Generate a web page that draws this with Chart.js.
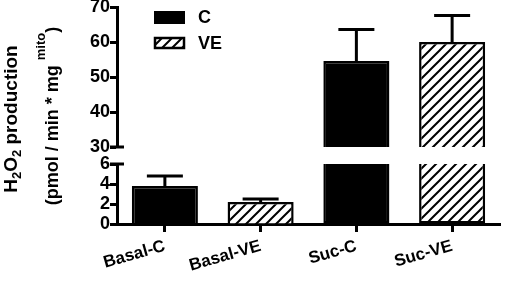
<!DOCTYPE html>
<html>
<head>
<meta charset="utf-8">
<script src="https://cdn.jsdelivr.net/npm/chart.js@4.4.0/dist/chart.umd.min.js"></script>
<style>
  html, body { margin: 0; padding: 0; background: #fff; }
</style>
</head>
<body>
<canvas id="grafico" width="505" height="282"></canvas>
<script>
// Dados
const categorias = ['Basal-C', 'Basal-VE', 'Suc-C', 'Suc-VE'];
const grupos = ['C', 'VE', 'C', 'VE'];
const medias = [3.8, 2.2, 54.6, 60.0];
const erros = [1.0, 0.3, 9.0, 7.6];
const ticksBaixo = [0, 2, 4, 6];
const ticksAlto = [30, 40, 50, 60, 70];

const corteBaixo = ticksBaixo[ticksBaixo.length - 1];
const corteAlto = ticksAlto[0];

// Padrão de hachura diagonal
function criarHachura() {
    const s = 10;
    const c = document.createElement('canvas');
    c.width = s;
    c.height = s;
    const g = c.getContext('2d');
    g.fillStyle = '#fff';
    g.fillRect(0, 0, s, s);
    g.strokeStyle = '#000';
    g.lineWidth = 2;
    g.beginPath();
    g.moveTo(-1, s + 1); g.lineTo(s + 1, -1);
    g.moveTo(-1, 1); g.lineTo(1, -1);
    g.moveTo(s - 1, s + 1); g.lineTo(s + 1, s - 1);
    g.stroke();
    return g.createPattern(c, 'repeat');
}
const hachura = criarHachura();

function parteBaixa(grupo) {
    return medias.map((v, i) => grupos[i] === grupo ? [0, Math.min(v, corteBaixo)] : null);
}
function parteAlta(grupo) {
    return medias.map((v, i) => grupos[i] === grupo && v > corteAlto ? [corteAlto, v] : null);
}

const estiloBarra = {
    borderColor: '#000',
    borderWidth: 2.5,
    grouped: false,
    categoryPercentage: 1,
    barPercentage: 0.69
};

function pularBaixo(ctx) {
    const v = ctx.raw;
    return v && v[1] >= corteBaixo ? 'top' : 'bottom';
}

const datasets = [
    Object.assign({ label: 'C', data: parteBaixa('C'), yAxisID: 'yBaixo', backgroundColor: '#000', borderSkipped: pularBaixo }, estiloBarra),
    Object.assign({ label: 'C', data: parteAlta('C'), yAxisID: 'yAlto', backgroundColor: '#000', borderSkipped: 'bottom' }, estiloBarra),
    Object.assign({ label: 'VE', data: parteBaixa('VE'), yAxisID: 'yBaixo', backgroundColor: hachura, borderSkipped: pularBaixo }, estiloBarra),
    Object.assign({ label: 'VE', data: parteAlta('VE'), yAxisID: 'yAlto', backgroundColor: hachura, borderSkipped: 'bottom' }, estiloBarra)
];

const fonteTicks = { family: 'Arial', weight: 'bold', size: 18 };

function eixoY(min, max, lista, peso, ordem) {
    return {
        type: 'linear',
        position: 'left',
        stack: 'y',
        stackWeight: peso,
        weight: ordem,
        min: min,
        max: max,
        stacked: false,
        afterBuildTicks: s => { s.ticks = lista.map(v => ({ value: v })); },
        afterFit: s => { s.width = 57; s.paddingTop = 0; s.paddingBottom = 0; },
        grid: { drawOnChartArea: false, drawTicks: true, tickLength: 7, tickWidth: 3, tickColor: '#000' },
        border: { display: true, color: '#000', width: 3 },
        ticks: { color: '#000', font: fonteTicks, padding: 0, autoSkip: false }
    };
}

// Barras de erro, cortes do eixo e legenda
const extras = {
    id: 'extras',
    afterDatasetsDraw(chart) {
        const ctx = chart.ctx;
        const x = chart.scales.x;
        ctx.save();
        ctx.strokeStyle = '#000';
        ctx.lineWidth = 3;
        medias.forEach((v, i) => {
            const eixo = v > corteAlto ? chart.scales.yAlto : chart.scales.yBaixo;
            const px = x.getPixelForValue(i);
            const y0 = eixo.getPixelForValue(v);
            const y1 = eixo.getPixelForValue(v + erros[i]);
            ctx.beginPath();
            ctx.moveTo(px, y0);
            ctx.lineTo(px, y1);
            ctx.moveTo(px - 18, y1);
            ctx.lineTo(px + 18, y1);
            ctx.stroke();
        });
        ctx.restore();
    },
    afterDraw(chart) {
        const ctx = chart.ctx;
        const left = chart.chartArea.left;
        ctx.save();
        ctx.strokeStyle = '#000';
        ctx.lineWidth = 3;
        [chart.scales.yAlto.getPixelForValue(corteAlto), chart.scales.yBaixo.getPixelForValue(corteBaixo)].forEach(py => {
            ctx.beginPath();
            ctx.moveTo(left - 7, py);
            ctx.lineTo(left + 7, py);
            ctx.stroke();
        });

        // legenda
        ctx.fillStyle = '#000';
        ctx.fillRect(154, 11, 31, 13);
        ctx.fillStyle = hachura;
        ctx.fillRect(155, 38, 29, 10);
        ctx.lineWidth = 2.5;
        ctx.strokeRect(155, 38, 29, 10);
        ctx.fillStyle = '#000';
        ctx.font = 'bold 18px Arial';
        ctx.textBaseline = 'middle';
        ctx.textAlign = 'left';
        ctx.fillText('C', 198, 18);
        ctx.fillText('VE', 198, 44);

        // título do eixo y
        desenharTitulo(ctx, 17, 119, [['H', 0], ['2', 1], ['O', 0], ['2', 1], [' production', 0]], 19);
        desenharTitulo(ctx, 58, 116, [['(pmol / min * mg ', 0], ['mito', 2], [')', 0]], 18);
        ctx.restore();
    }
};

// base: posição x da linha de base do texto girado
function desenharTitulo(ctx, base, cy, partes, tam) {
    const fonte = t => 'bold ' + t + 'px Arial';
    const pequeno = Math.round(tam * 0.7);
    let total = 0;
    partes.forEach(p => {
        ctx.font = fonte(p[1] ? pequeno : tam);
        total += ctx.measureText(p[0]).width;
    });
    ctx.save();
    ctx.translate(base, cy);
    ctx.rotate(-Math.PI / 2);
    ctx.textAlign = 'left';
    ctx.textBaseline = 'alphabetic';
    ctx.fillStyle = '#000';
    let pos = -total / 2;
    partes.forEach(p => {
        ctx.font = fonte(p[1] ? pequeno : tam);
        let dy = 0;
        if (p[1] === 1) dy = 4;
        if (p[1] === 2) dy = -13;
        ctx.fillText(p[0], pos, dy);
        pos += ctx.measureText(p[0]).width;
    });
    ctx.restore();
}

function gerarGrafico() {
    const ctx = document.getElementById('grafico').getContext('2d');
    new Chart(ctx, {
        type: 'bar',
        data: { labels: categorias, datasets: datasets },
        options: {
            responsive: false,
            animation: false,
            devicePixelRatio: 1,
            layout: { padding: { left: 60, right: 5, top: 7, bottom: 0 } },
            plugins: { legend: { display: false }, tooltip: { enabled: false } },
            scales: {
                x: {
                    offset: true,
                    afterFit: s => { s.height = 58; s.paddingLeft = 0; s.paddingRight = 0; },
                    grid: { offset: false, drawOnChartArea: false, drawTicks: true, tickLength: 8, tickWidth: 3, tickColor: '#000' },
                    border: { display: true, color: '#000', width: 3 },
                    ticks: { color: '#000', font: { family: 'Arial', weight: 'bold', size: 17 }, minRotation: 16, maxRotation: 16, padding: 4, autoSkip: false }
                },
                yAlto: eixoY(ticksAlto[0], ticksAlto[ticksAlto.length - 1], ticksAlto, 140, 3),
                yVao: { type: 'linear', position: 'left', stack: 'y', stackWeight: 17, weight: 2, display: false },
                yBaixo: eixoY(ticksBaixo[0], corteBaixo, ticksBaixo, 60, 1)
            }
        },
        plugins: [extras]
    });
}

window.onload = function () {
    gerarGrafico();
};
</script>
</body>
</html>
